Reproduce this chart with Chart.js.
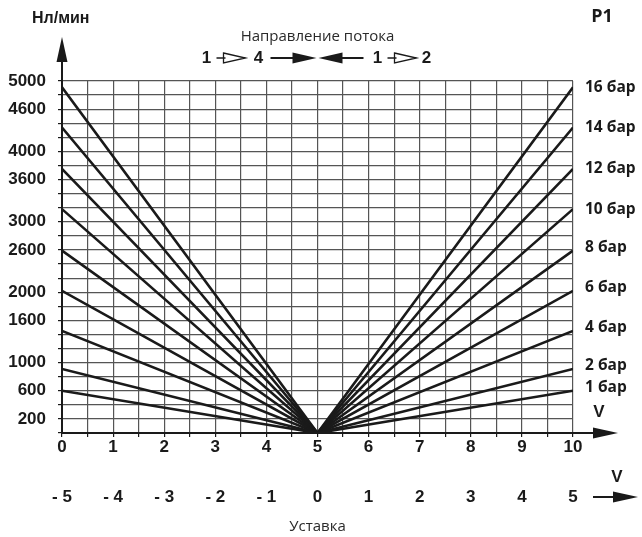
<!DOCTYPE html>
<html>
<head>
<meta charset="utf-8">
<script src="https://cdn.jsdelivr.net/npm/chart.js@4.4.1/dist/chart.umd.min.js"></script>
<style>
  html, body { margin: 0; padding: 0; background: #fff; }
  #wrap { width: 642px; height: 537px; }
</style>
</head>
<body>
<div id="wrap"><canvas id="flowChart" width="642" height="537"></canvas></div>
<script>
// Flow vs. control voltage, one line per inlet pressure
const voltagePoints = [0, 5, 10];
const pressureLabels = ["1 бар", "2 бар", "4 бар", "6 бар", "8 бар", "10 бар", "12 бар", "14 бар", "16 бар"];
const flowAtEnds = [600, 910, 1450, 2020, 2590, 3180, 3750, 4340, 4910];
const flowAtCenter = 0;
const yTickLabels = [200, 600, 1000, 1600, 2000, 2600, 3000, 3600, 4000, 4600, 5000];
const setpointLabels = ["- 5", "- 4", "- 3", "- 2", "- 1", "0", "1", "2", "3", "4", "5"];

const ink = "#1a1a1a";
const gridColor = "#555";
const tickFont = { family: "'Liberation Sans', Arial, sans-serif", size: 17, weight: "bold" };

const datasets = flowAtEnds.map((flow, i) => ({
  label: pressureLabels[i],
  data: voltagePoints.map(v => ({ x: v, y: v === 5 ? flowAtCenter : flow })),
  borderColor: ink,
  borderWidth: 2.6,
  pointRadius: 0,
  tension: 0,
  fill: false
}));

function arrowHead(ctx, tipX, tipY, dir, len, half) {
  ctx.beginPath();
  if (dir === "right") {
    ctx.moveTo(tipX, tipY); ctx.lineTo(tipX - len, tipY - half); ctx.lineTo(tipX - len, tipY + half);
  } else if (dir === "left") {
    ctx.moveTo(tipX, tipY); ctx.lineTo(tipX + len, tipY - half); ctx.lineTo(tipX + len, tipY + half);
  } else {
    ctx.moveTo(tipX, tipY); ctx.lineTo(tipX - half, tipY + len); ctx.lineTo(tipX + half, tipY + len);
  }
  ctx.closePath();
  ctx.fill();
}

function openArrow(ctx, x0, y) {
  // short stem + hollow triangle, like "-▷"
  ctx.beginPath();
  ctx.moveTo(x0, y); ctx.lineTo(x0 + 9, y);
  ctx.moveTo(x0 + 7, y - 5); ctx.lineTo(x0 + 29, y); ctx.lineTo(x0 + 7, y + 5); ctx.closePath();
  ctx.stroke();
}

const decorations = {
  id: "decorations",
  afterDraw(chart) {
    const { ctx, chartArea: a, scales } = chart;
    const xs = scales.x, ys = scales.y;
    ctx.save();
    ctx.fillStyle = ink;
    ctx.strokeStyle = ink;

    // axis extensions with arrowheads
    ctx.lineWidth = 2;
    ctx.beginPath();
    ctx.moveTo(a.left, a.top); ctx.lineTo(a.left, 60);
    ctx.moveTo(a.right, a.bottom); ctx.lineTo(595, a.bottom);
    ctx.stroke();
    arrowHead(ctx, a.left, 37, "up", 25, 5.5);
    arrowHead(ctx, 618, a.bottom, "right", 25, 5.5);

    // second axis arrow
    ctx.beginPath();
    ctx.moveTo(593, 497); ctx.lineTo(614, 497);
    ctx.stroke();
    arrowHead(ctx, 638, 497, "right", 25, 5.5);

    ctx.textBaseline = "middle";
    ctx.font = "bold 16px 'Liberation Sans', Arial, sans-serif";
    ctx.textAlign = "left";
    ctx.fillText("Нл/мин", 32, 19);
    ctx.font = "bold 17px 'Liberation Sans', Arial, sans-serif";
    ctx.textAlign = "center";
    ctx.fillText("V", 599, 412);
    ctx.fillText("V", 617, 477);

    ctx.font = "bold 18px 'Open Sans', sans-serif";
    ctx.fillText("P1", 602, 17);

    // pressure labels at the right end of each line
    ctx.font = "bold 15.5px 'Open Sans', sans-serif";
    ctx.textAlign = "left";
    flowAtEnds.forEach((flow, i) => {
      const y = ys.getPixelForValue(flow) - (flow < 3000 ? 3 : 0);
      ctx.fillText(pressureLabels[i], 585, y);
    });

    // flow direction header
    const cx = xs.getPixelForValue(5);
    ctx.font = "15px 'Open Sans', sans-serif";
    ctx.fillStyle = "#2a2a2a";
    ctx.textAlign = "center";
    ctx.fillText("Направление потока", cx, 37);
    ctx.fillText("Уставка", cx, 527);

    ctx.fillStyle = ink;
    ctx.font = "bold 17px 'Liberation Sans', Arial, sans-serif";
    const ry = 58;
    ctx.fillText("1", cx - 111, ry);
    ctx.fillText("4", cx - 59, ry);
    ctx.fillText("1", cx + 60, ry);
    ctx.fillText("2", cx + 109, ry);
    ctx.lineWidth = 1.3;
    openArrow(ctx, cx - 101, ry);
    openArrow(ctx, cx + 70, ry);
    ctx.lineWidth = 2;
    ctx.beginPath();
    ctx.moveTo(cx - 47, ry); ctx.lineTo(cx - 20, ry);
    ctx.moveTo(cx + 20, ry); ctx.lineTo(cx + 46, ry);
    ctx.stroke();
    arrowHead(ctx, cx - 1, ry, "right", 24, 5.5);
    arrowHead(ctx, cx + 1, ry, "left", 24, 5.5);
    ctx.restore();
  }
};

new Chart(document.getElementById("flowChart"), {
  type: "line",
  data: { datasets },
  options: {
    responsive: false,
    animation: false,
    layout: { padding: { top: 81, right: 69, bottom: 30, left: 0 } },
    plugins: { legend: { display: false }, tooltip: { enabled: false } },
    scales: {
      x: {
        type: "linear", position: "bottom", min: 0, max: 10,
        ticks: {
          stepSize: 0.5, autoSkip: false, maxRotation: 0, padding: 0,
          color: ink, font: tickFont,
          callback: v => Number.isInteger(v) ? String(v) : ""
        },
        grid: { color: gridColor, lineWidth: 1.2, tickLength: 4, tickColor: ink },
        border: { color: ink, width: 2 },
        afterFit: s => { s.height = 34; }
      },
      x2: {
        type: "linear", position: "bottom", min: -5, max: 5,
        ticks: {
          stepSize: 1, autoSkip: false, maxRotation: 0, padding: 20,
          color: ink, font: tickFont,
          callback: v => setpointLabels[v + 5]
        },
        grid: { display: false, drawTicks: false },
        border: { display: false },
        afterFit: s => { s.height = 40; }
      },
      y: {
        min: 0, max: 5000,
        ticks: {
          stepSize: 200, autoSkip: false, padding: 12,
          color: ink, font: tickFont,
          callback: v => yTickLabels.includes(v) ? String(v) : ""
        },
        grid: { color: gridColor, lineWidth: 1.2, tickLength: 4, tickColor: ink },
        border: { color: ink, width: 2 },
        afterFit: s => { s.width = 62; }
      }
    }
  },
  plugins: [decorations]
});
</script>
</body>
</html>
